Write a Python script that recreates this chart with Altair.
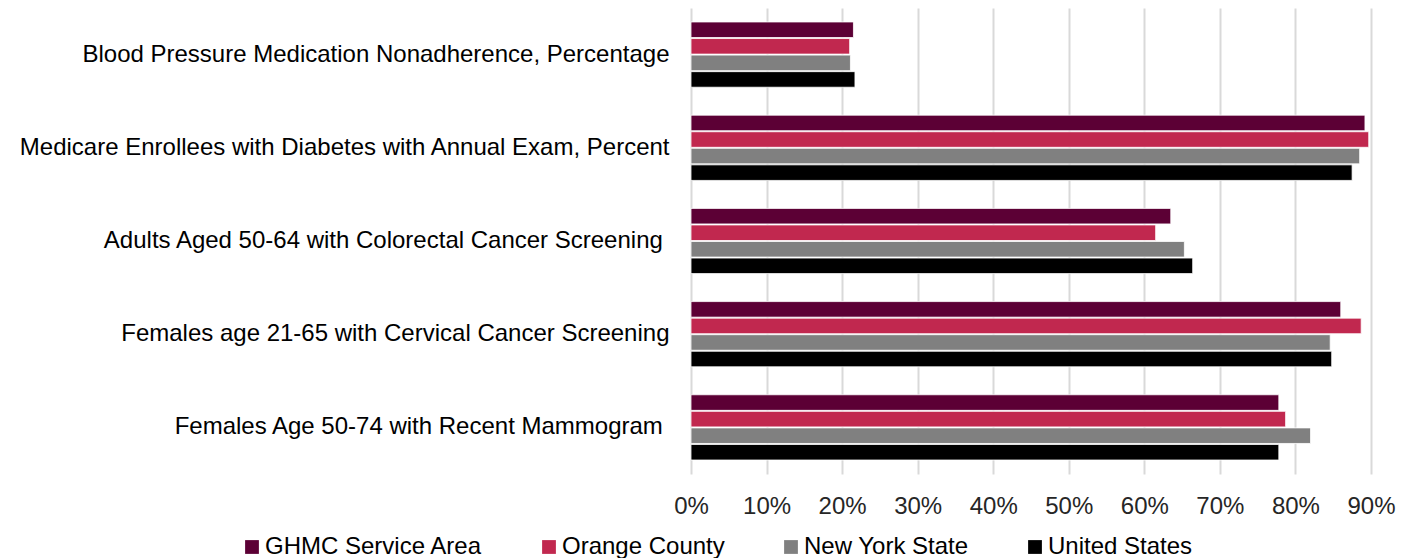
import altair as alt
import pandas as pd

categories = [
    "Blood Pressure Medication Nonadherence, Percentage",
    "Medicare Enrollees with Diabetes with Annual Exam, Percent",
    "Adults Aged 50-64 with Colorectal Cancer Screening\u00a0\u200b",
    "Females age 21-65 with Cervical Cancer Screening",
    "Females Age 50-74 with Recent Mammogram\u00a0\u200b",
]
series = ["GHMC Service Area", "Orange County", "New York State", "United States"]
ghmc = [21.5, 89.2, 63.5, 86.0, 77.8]
orange = [21.0, 89.7, 61.5, 88.7, 78.7]
nys = [21.1, 88.5, 65.3, 84.6, 82.0]
us = [21.7, 87.5, 66.4, 84.8, 77.8]
colors = ["#5C0035", "#C1284F", "#808080", "#000000"]

rows = []
for s, vals in zip(series, [ghmc, orange, nys, us]):
    for c, v in zip(categories, vals):
        rows.append({"Category": c, "Series": s, "Value": v / 100})
df = pd.DataFrame(rows)

FONT = "Liberation Sans"
FS = 24

chart = alt.Chart(df).mark_bar(stroke="white", strokeWidth=0.8).encode(
    y=alt.Y("Category:N", sort=categories, title=None,
            scale=alt.Scale(paddingInner=0.3, paddingOuter=0.15),
            axis=alt.Axis(labelFontSize=FS, labelFont=FONT, labelColor="#000000",
                          labelPadding=22, ticks=False, domain=False, labelLimit=900,
                          grid=False)),
    yOffset=alt.YOffset("Series:N", sort=series, scale=alt.Scale(paddingInner=0.06)),
    x=alt.X("Value:Q", title=None,
            scale=alt.Scale(domain=[0, 0.9], nice=False),
            axis=alt.Axis(format=".0%", values=[i / 10 for i in range(10)],
                          labelFontSize=FS, labelFont=FONT, labelColor="#262626",
                          labelPadding=20, ticks=False, domain=False,
                          labelFlush=False, labelOverlap=False,
                          grid=True, gridColor="#d9d9d9", gridWidth=2)),
    color=alt.Color("Series:N", sort=series,
                    scale=alt.Scale(domain=series, range=colors),
                    legend=alt.Legend(title=None, orient="none", legendX=-451, legendY=527,
                                      direction="horizontal", columns=4,
                                      symbolType="square", symbolSize=190,
                                      symbolStrokeWidth=0, labelOffset=1,
                                      columnPadding=54, labelFontSize=FS,
                                      labelFont=FONT, labelColor="#000000",
                                      labelLimit=400)),
).properties(
    width=680, height=466,
    padding={"left": 10, "top": 0, "right": 5, "bottom": 5},
).configure_view(stroke=None)

chart.save("out.html", embed_options={"renderer": "svg", "actions": False})
